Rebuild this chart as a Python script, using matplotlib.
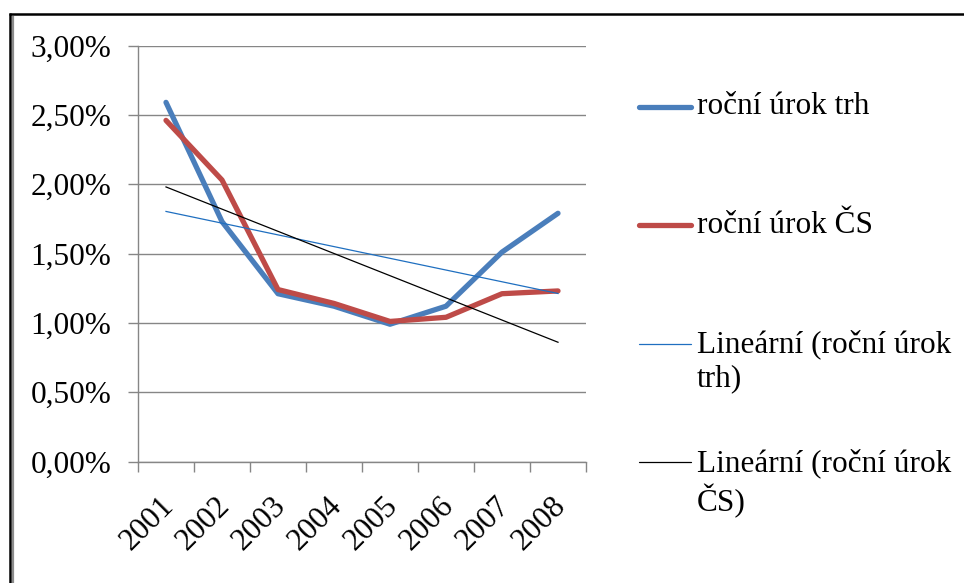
import numpy as np
import matplotlib
matplotlib.use('Agg')
import matplotlib.pyplot as plt
from matplotlib.ticker import FuncFormatter, FixedLocator

plt.rcParams['font.family'] = ['Liberation Serif', 'DejaVu Serif']

years = ['2001', '2002', '2003', '2004', '2005', '2006', '2007', '2008']
urok_trh = [2.59, 1.73, 1.21, 1.12, 0.99, 1.12, 1.51, 1.79]
urok_cs = [2.46, 2.03, 1.24, 1.14, 1.01, 1.04, 1.21, 1.23]

labels = ['roční úrok trh', 'roční úrok ČS',
          'Lineární (roční úrok\ntrh)', 'Lineární (roční úrok\nČS)']

c_trh = '#4A7EBB'
c_cs = '#BE4B48'
c_trend_trh = '#1F6FC0'
c_trend_cs = '#000000'
grid_c = '#868686'
fs = 22.5

W, H = 964, 583
fig = plt.figure(figsize=(W / 100, H / 100), dpi=100)
ax = fig.add_axes([138 / W, 1 - 461.5 / H, 448 / W, 416 / H])

x = np.arange(len(years)) + 0.5
n = np.arange(1, len(years) + 1)

# linear trend lines, same as Excel's "Lineární" trendline
fit_trh = np.polyval(np.polyfit(n, urok_trh, 1), n)
fit_cs = np.polyval(np.polyfit(n, urok_cs, 1), n)

ax.plot(x, urok_trh, color=c_trh, lw=3.8, solid_capstyle='round', solid_joinstyle='round', zorder=3)
ax.plot(x, urok_cs, color=c_cs, lw=3.8, solid_capstyle='round', solid_joinstyle='round', zorder=3)
ax.plot(x[[0, -1]], fit_trh[[0, -1]], color=c_trend_trh, lw=0.9, zorder=4)
ax.plot(x[[0, -1]], fit_cs[[0, -1]], color=c_trend_cs, lw=0.9, zorder=4)

ax.set_xlim(0, len(years))
ax.set_ylim(0, 3)
ax.set_yticks(np.arange(0, 3.01, 0.5))
ax.yaxis.set_major_formatter(FuncFormatter(lambda v, p: f'{v:.2f}%'.replace('.', ',')))
ax.yaxis.grid(True, color=grid_c, lw=1.0)
ax.set_axisbelow(True)

ax.xaxis.set_major_locator(FixedLocator(np.arange(0, len(years) + 1)))
ax.xaxis.set_minor_locator(FixedLocator(x + 0.06))
ax.set_xticklabels([], minor=False)
ax.set_xticklabels(years, minor=True, rotation=45, ha='right', va='center',
                   rotation_mode='anchor', fontsize=fs)
ax.tick_params(axis='x', which='minor', length=0, pad=29)
ax.tick_params(axis='x', which='major', length=7, width=1.0, color=grid_c)
ax.tick_params(axis='y', length=7, width=1.0, color=grid_c, pad=12, labelsize=fs)

for s in ['top', 'right']:
    ax.spines[s].set_visible(False)
for s in ['left', 'bottom']:
    ax.spines[s].set_color(grid_c)
    ax.spines[s].set_linewidth(1.0)

# overlay in pixel units for the outer frame and the legend
lax = fig.add_axes([0, 0, 1, 1])
lax.set_xlim(0, W)
lax.set_ylim(H, 0)
lax.axis('off')
lax.patch.set_alpha(0)

lax.plot([9, W], [14, 14], color='black', lw=1.8, solid_capstyle='butt')
lax.plot([9.5, 9.5], [13, H], color='black', lw=1.8, solid_capstyle='butt')
lax.plot([12.5, 12.5], [16, H], color='#8C8C8C', lw=1.6, solid_capstyle='butt')

leg_colors = [c_trh, c_cs, c_trend_trh, c_trend_cs]
leg_widths = [3.8, 3.8, 0.9, 0.9]
leg_y0, leg_step = 106.5, 118.5
for i, (lab, col, lw) in enumerate(zip(labels, leg_colors, leg_widths)):
    yy = leg_y0 + i * leg_step
    lax.plot([639, 691], [yy, yy], color=col, lw=lw, solid_capstyle='round')
    lax.text(697, yy - 14, lab, fontsize=fs, va='top', ha='left', linespacing=1.22)

fig.savefig('out.png', dpi=100)
